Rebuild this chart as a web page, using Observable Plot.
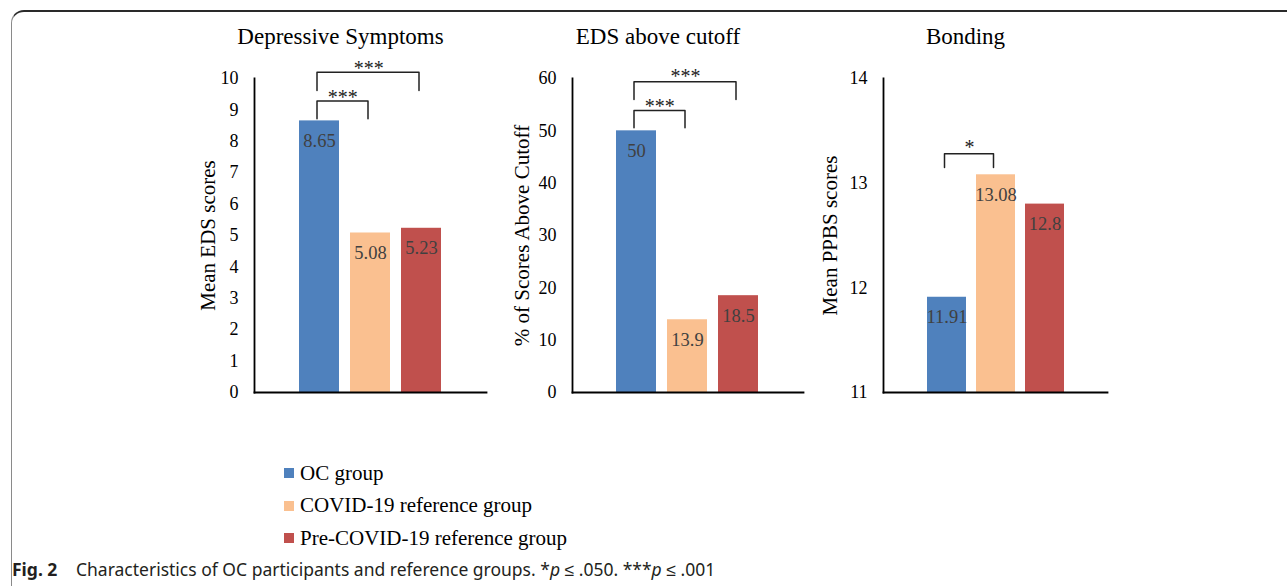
<!DOCTYPE html>
<html>
<head>
<meta charset="utf-8">
<script src="https://cdn.jsdelivr.net/npm/d3@7"></script>
<script src="https://cdn.jsdelivr.net/npm/@observablehq/plot@0.6"></script>
<style>
  html, body { margin: 0; padding: 0; background: #fff; }
  #page { position: relative; width: 1287px; height: 586px; overflow: hidden; background: #fff; }
  #frame { position: absolute; left: 11px; top: 10px; width: 1400px; height: 700px;
           border-top: 2px solid #2a2a2a; border-left: 1.5px solid #8a8a8a; border-top-left-radius: 13px; }
  .panel { position: absolute; top: 0; }
  #legend { position: absolute; left: 284px; top: 457px; font-family: "Liberation Serif", serif; font-size: 21px; color: #000; }
  #legend .row { height: 32.5px; display: flex; align-items: center; }
  #legend .sw { width: 10px; height: 10px; margin-right: 6px; }
  #caption { position: absolute; left: 12px; top: 557px; font-family: "Noto Sans", sans-serif; font-size: 17.5px; color: #231f20; white-space: nowrap; }
  #caption b { font-weight: 700; margin-right: 14px; }
</style>
</head>
<body>
<div id="page">
  <div id="frame"></div>
  <div id="p1" class="panel" style="left:150px"></div>
  <div id="p2" class="panel" style="left:470px"></div>
  <div id="p3" class="panel" style="left:780px"></div>
  <div id="legend"></div>
  <div id="caption"><b>Fig. 2</b> Characteristics of OC participants and reference groups. *<i>p</i> ≤ .050. ***<i>p</i> ≤ .001</div>
</div>
<script>
// ---- data ----
const groups = ["OC group", "COVID-19 reference group", "Pre-COVID-19 reference group"];
const groupColors = ["#4f81bd", "#fac090", "#c0504d"];

const titles = ["Depressive Symptoms", "EDS above cutoff", "Bonding"];
const yLabels = ["Mean EDS scores", "% of Scores Above Cutoff", "Mean PPBS scores"];

const edsMeans = [8.65, 5.08, 5.23];
const edsAboveCutoff = [50, 13.9, 18.5];
const ppbsMeans = [11.91, 13.08, 12.8];

const edsMeansLabels = ["8.65", "5.08", "5.23"];
const edsAboveCutoffLabels = ["50", "13.9", "18.5"];
const ppbsMeansLabels = ["11.91", "13.08", "12.8"];

const edsMeansTicks = [0, 1, 2, 3, 4, 5, 6, 7, 8, 9, 10];
const edsAboveCutoffTicks = [0, 10, 20, 30, 40, 50, 60];
const ppbsMeansTicks = [11, 12, 13, 14];

// significance brackets: from group index, to group index, bracket top, leg bottom, star position
const edsMeansBrackets = [
  {from: 0, to: 1, top: 9.28, leg: 8.72, star: 9.38, label: "***"},
  {from: 0, to: 2, top: 10.2, leg: 9.62, star: 10.33, label: "***"}
];
const edsAboveCutoffBrackets = [
  {from: 0, to: 1, top: 53.9, leg: 50.6, star: 54.7, label: "***"},
  {from: 0, to: 2, top: 59.4, leg: 56.0, star: 60.4, label: "***"}
];
const ppbsMeansBrackets = [
  {from: 0, to: 1, top: 13.28, leg: 13.15, star: 13.34, label: "*"}
];

// ---- panels ----
const W = 340, H = 420;
const xOpts = {type: "band", domain: groups, paddingInner: 0.21, paddingOuter: 0.85};
const panels = [
  {id: "p1", values: edsMeans, labels: edsMeansLabels, ticks: edsMeansTicks, domain: [0, 10], brackets: edsMeansBrackets,
   marginLeft: 104, marginRight: 4, labelDx: -46},
  {id: "p2", values: edsAboveCutoff, labels: edsAboveCutoffLabels, ticks: edsAboveCutoffTicks, domain: [0, 60], brackets: edsAboveCutoffBrackets,
   marginLeft: 102, marginRight: 7, labelDx: -50},
  {id: "p3", values: ppbsMeans, labels: ppbsMeansLabels, ticks: ppbsMeansTicks, domain: [11, 14], brackets: ppbsMeansBrackets,
   marginLeft: 103, marginRight: 13, labelDx: -53}
];

panels.forEach((p, i) => {
  const base = p.domain[0];
  const data = groups.map((g, j) => ({group: g, value: p.values[j], label: p.labels[j]}));
  // library band scale, used to find the midpoint between bracket legs
  const sx = Plot.scale({x: {...xOpts, range: [p.marginLeft, W - p.marginRight]}});
  const bracketPts = [];
  p.brackets.forEach((b, k) => {
    bracketPts.push({k, x: groups[b.from], y: b.leg});
    bracketPts.push({k, x: groups[b.from], y: b.top});
    bracketPts.push({k, x: groups[b.to], y: b.top});
    bracketPts.push({k, x: groups[b.to], y: b.leg});
  });
  const starMarks = p.brackets.map(b =>
    Plot.text([b], {
      x: d => groups[d.from], y: "star", text: "label", fontSize: 20, fill: "#222",
      dx: (sx.apply(groups[b.to]) - sx.apply(groups[b.from])) / 2 - 2.5
    })
  );

  const chart = Plot.plot({
    width: W,
    height: H,
    marginTop: 78,
    marginBottom: 28,
    marginLeft: p.marginLeft,
    marginRight: p.marginRight,
    style: {fontFamily: "Liberation Serif, serif", fontSize: "18px", color: "#000", background: "transparent", overflow: "visible"},
    x: {...xOpts, axis: null},
    y: {domain: p.domain, ticks: p.ticks, label: null},
    color: {domain: groups, range: groupColors},
    marks: [
      Plot.barY(data, {x: "group", y1: () => base, y2: "value", fill: "group"}),
      Plot.text(data, {x: "group", y: "value", text: "label", dy: 20, fill: "#404040", fontSize: 18.5}),
      Plot.axisY({ticks: p.ticks, tickSize: 0, tickPadding: 16, fontSize: 18, label: null, tickFormat: d => String(d)}),
      Plot.frame({anchor: "left", stroke: "#000", strokeWidth: 1.8}),
      Plot.frame({anchor: "bottom", stroke: "#000", strokeWidth: 1.8}),
      Plot.line(bracketPts, {x: "x", y: "y", z: "k", stroke: "#222", strokeWidth: 1.5, strokeLinejoin: "round", dx: -2.5}),
      ...starMarks,
      Plot.text([titles[i]], {frameAnchor: "top", lineAnchor: "middle", dy: -41.5, dx: -30, fontSize: 23, fill: "#000"}),
      Plot.text([yLabels[i]], {frameAnchor: "left", textAnchor: "middle", lineAnchor: "middle", rotate: -90, dx: p.labelDx, fontSize: 21, fill: "#000"})
    ]
  });
  document.getElementById(p.id).appendChild(chart);
});

// ---- legend ----
const legend = document.getElementById("legend");
groups.forEach((g, j) => {
  const row = document.createElement("div");
  row.className = "row";
  const sw = document.createElement("div");
  sw.className = "sw";
  sw.style.background = groupColors[j];
  const t = document.createElement("span");
  t.textContent = g;
  row.appendChild(sw);
  row.appendChild(t);
  legend.appendChild(row);
});
</script>
</body>
</html>
